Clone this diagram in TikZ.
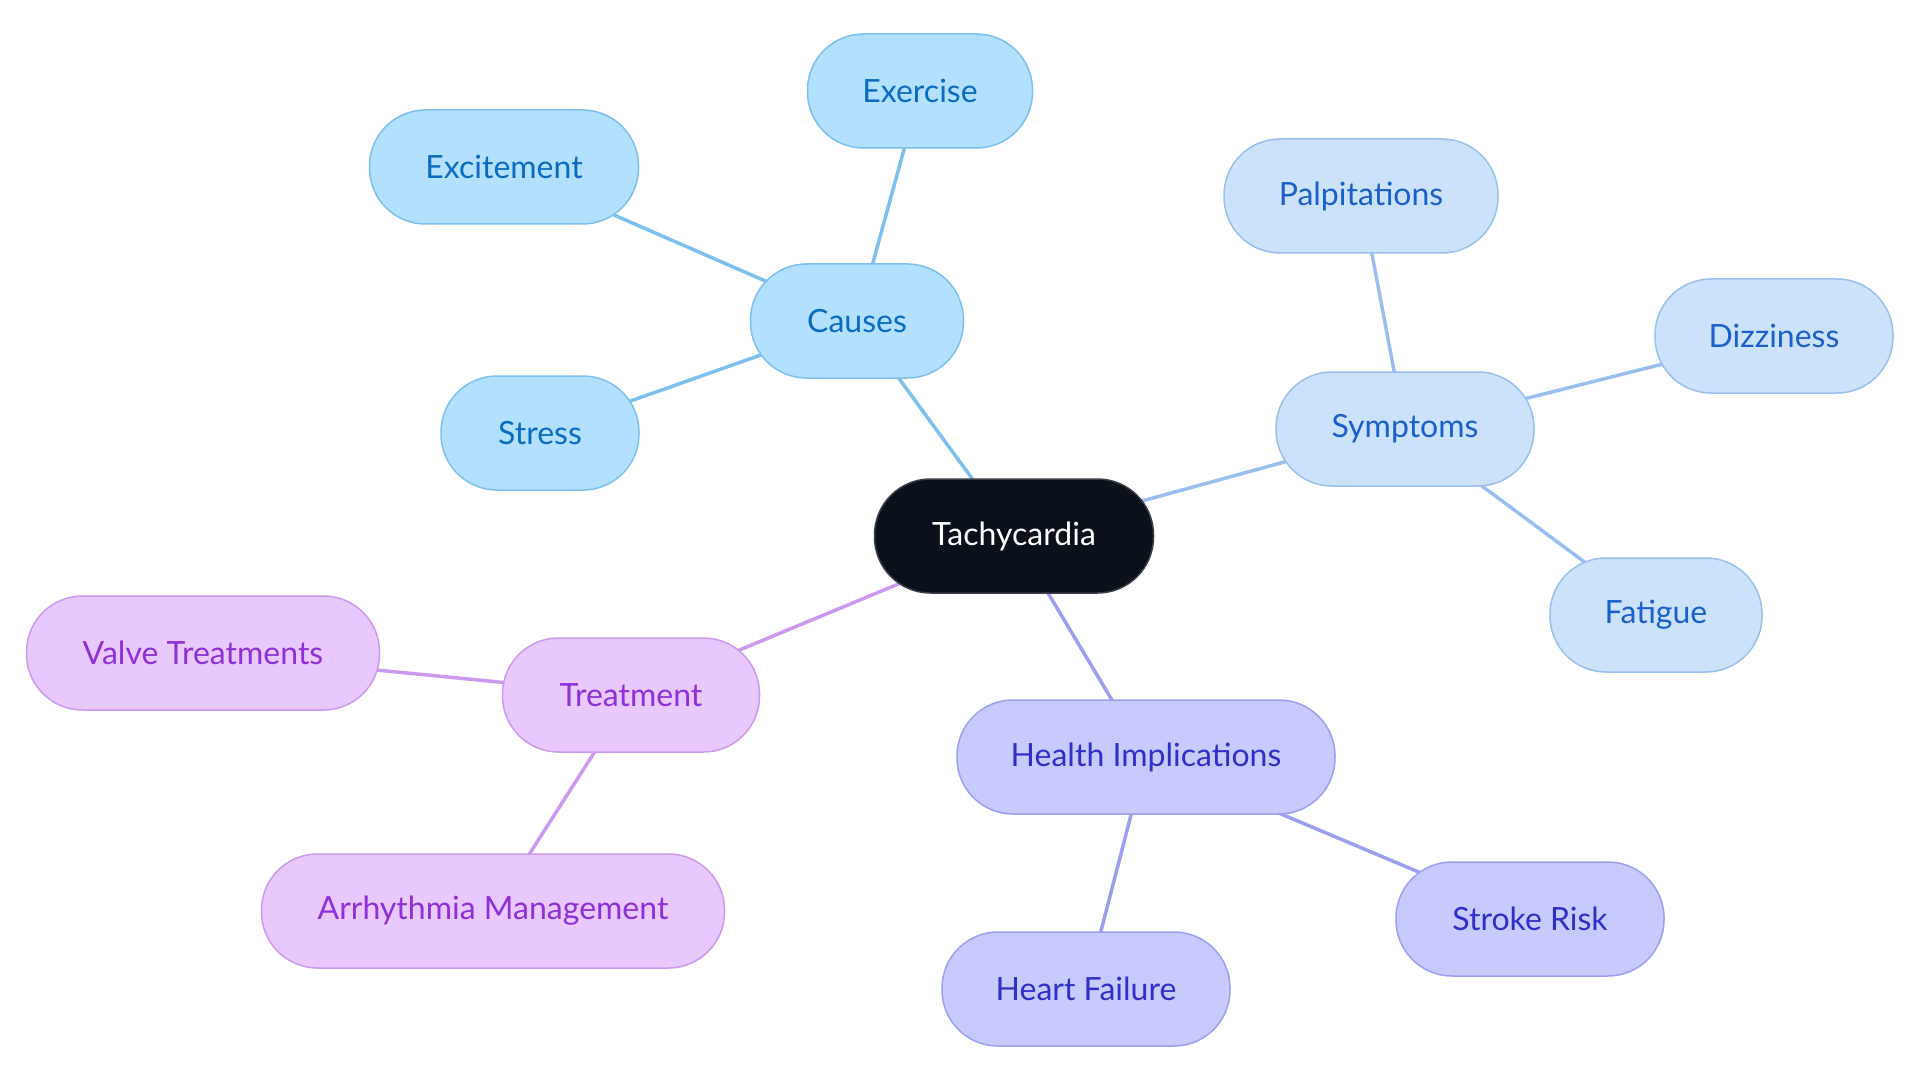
\documentclass[tikz,border=0pt]{standalone}
\usepackage{fontspec}
\setmainfont{Lato}
\usetikzlibrary{backgrounds}
\definecolor{cfill}{HTML}{B3E0FF}\definecolor{cdraw}{HTML}{7DC0EE}\definecolor{ctext}{HTML}{0B6CBF}
\definecolor{sfill}{HTML}{CCE2FA}\definecolor{sdraw}{HTML}{9ABFEE}\definecolor{stext}{HTML}{1A5FCC}
\definecolor{hfill}{HTML}{C8CAFD}\definecolor{hdraw}{HTML}{9C9EF0}\definecolor{htext}{HTML}{3030C8}
\definecolor{tfill}{HTML}{E8C8FD}\definecolor{tdraw}{HTML}{CC99F0}\definecolor{ttext}{HTML}{9030D8}
\definecolor{rootfill}{HTML}{0B111A}\definecolor{rootdraw}{HTML}{3A3F47}
\tikzset{
  pill/.style={rectangle, rounded corners=56pt, minimum height=114pt, line width=1.5pt, font=\fontsize{32}{38}\selectfont, inner sep=0pt},
  causebox/.style={pill, fill=cfill, draw=cdraw, text=ctext},
  sympbox/.style={pill, fill=sfill, draw=sdraw, text=stext},
  healthbox/.style={pill, fill=hfill, draw=hdraw, text=htext},
  treatbox/.style={pill, fill=tfill, draw=tdraw, text=ttext},
  rootbox/.style={pill, fill=rootfill, draw=rootdraw, text=white},
  cedge/.style={draw=cdraw, line width=3.5pt},
  sedge/.style={draw=sdraw, line width=3.5pt},
  hedge/.style={draw=hdraw, line width=3.5pt},
  tedge/.style={draw=tdraw, line width=3.5pt},
}
\begin{document}
\begin{tikzpicture}[x=1pt, y=-1pt]
\useasboundingbox (0,0) rectangle (1920,1083);
\node[rootbox, minimum width=279pt] (root) at (1014,536) {Tachycardia};
\node[causebox, minimum width=213pt] (causes) at (857,321) {Causes};
\node[causebox, minimum width=225pt] (exercise) at (920,91) {Exercise};
\node[causebox, minimum width=269pt] (excitement) at (504,167) {Excitement};
\node[causebox, minimum width=198pt] (stress) at (540,433) {Stress};
\node[sympbox, minimum width=258pt] (symptoms) at (1405,429) {Symptoms};
\node[sympbox, minimum width=274pt] (palp) at (1361,196) {Palpitations};
\node[sympbox, minimum width=238pt] (dizz) at (1774,336) {Dizziness};
\node[sympbox, minimum width=212pt] (fatigue) at (1656,615) {Fatigue};
\node[healthbox, minimum width=378pt] (health) at (1146,757) {Health Implications};
\node[healthbox, minimum width=268pt] (stroke) at (1530,919) {Stroke Risk};
\node[healthbox, minimum width=288pt] (heartf) at (1086,989) {Heart Failure};
\node[treatbox, minimum width=257pt] (treat) at (631,695) {Treatment};
\node[treatbox, minimum width=353pt] (valve) at (203,653) {Valve Treatments};
\node[treatbox, minimum width=463pt] (arrh) at (493,911) {Arrhythmia Management};
\begin{scope}[on background layer]
\draw[cedge] (root.center) -- (causes.center);
\draw[cedge] (causes.center) -- (exercise.center);
\draw[cedge] (causes.center) -- (excitement.center);
\draw[cedge] (causes.center) -- (stress.center);
\draw[sedge] (root.center) -- (symptoms.center);
\draw[sedge] (symptoms.center) -- (palp.center);
\draw[sedge] (symptoms.center) -- (dizz.center);
\draw[sedge] (symptoms.center) -- (fatigue.center);
\draw[hedge] (root.center) -- (health.center);
\draw[hedge] (health.center) -- (stroke.center);
\draw[hedge] (health.center) -- (heartf.center);
\draw[tedge] (root.center) -- (treat.center);
\draw[tedge] (treat.center) -- (valve.center);
\draw[tedge] (treat.center) -- (arrh.center);
\end{scope}
\end{tikzpicture}
\end{document}
